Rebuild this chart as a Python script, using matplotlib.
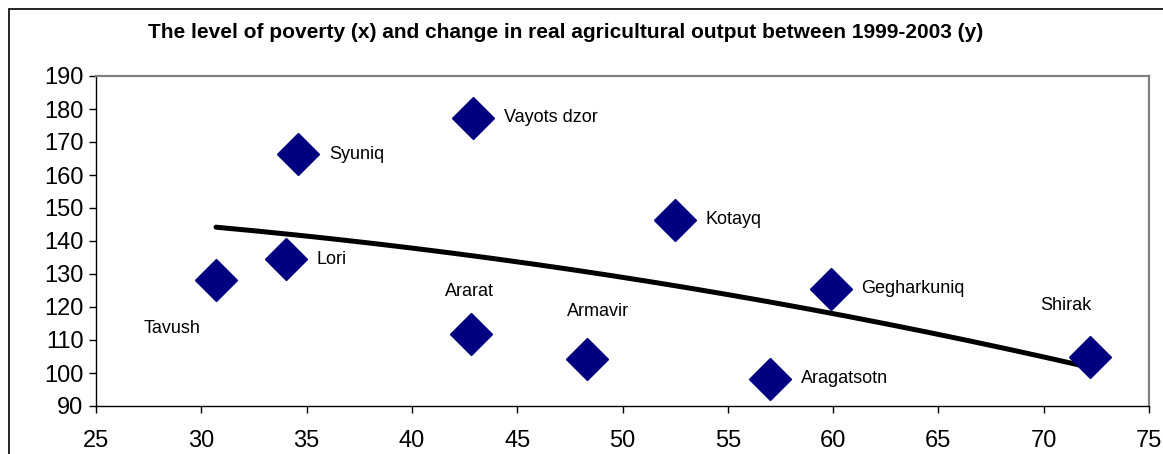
import numpy as np
import matplotlib
matplotlib.use("Agg")
import matplotlib.pyplot as plt
from matplotlib.patches import Rectangle

plt.rcParams['font.family'] = ['Liberation Sans', 'DejaVu Sans']

# ---- data ----
regions = ["Tavush", "Lori", "Syuniq", "Vayots dzor", "Ararat", "Armavir",
           "Kotayq", "Gegharkuniq", "Aragatsotn", "Shirak"]
poverty = [30.7, 34.0, 34.6, 42.9, 42.8, 48.3, 52.5, 59.9, 57.0, 72.2]
agri_change = [128.3, 134.5, 166.3, 177.4, 111.8, 104.2, 146.5, 125.6, 98.2, 104.8]

x_ticks = [25, 30, 35, 40, 45, 50, 55, 60, 65, 70, 75]
y_ticks = [90, 100, 110, 120, 130, 140, 150, 160, 170, 180, 190]
title = "The level of poverty (x) and change in real agricultural output between 1999-2003 (y)"

# label offsets in points (position styling)
label_offsets = [(-52, -35), (22, 0), (22, 0), (22, 0), (-19, 31), (-14, 34),
                 (22, 0), (22, 0), (22, 0), (-36, 37)]
label_ha = ['left'] * 10

W, H, DPI = 1163, 454, 100
fig = plt.figure(figsize=(W / DPI, H / DPI), dpi=DPI)
fig.patch.set_facecolor('white')

# outer chart frame
fig.add_artist(Rectangle((9 / W, -0.1), 1.2, 1.1 - 9 / H, transform=fig.transFigure,
                         fill=False, edgecolor='black', linewidth=1.2))

left, right, top, bottom = 96, 1149, 76, 406
ax = fig.add_axes([left / W, 1 - bottom / H, (right - left) / W, (bottom - top) / H])

ax.set_xlim(25, 75)
ax.set_ylim(90, 190)
ax.set_xticks(x_ticks)
ax.set_yticks(y_ticks)
ax.tick_params(axis='both', labelsize=17, length=5, width=1, direction='out', colors='black')
ax.tick_params(axis='x', pad=12)
ax.tick_params(axis='y', pad=4)
for s in ['left', 'bottom']:
    ax.spines[s].set_color('black')
    ax.spines[s].set_linewidth(1.0)
for s in ['top', 'right']:
    ax.spines[s].set_color('#808080')
    ax.spines[s].set_linewidth(1.6)

# trend line: 2nd order polynomial fit of the data
coef = np.polyfit(poverty, agri_change, 2)
xs = np.linspace(min(poverty), max(poverty), 200)
ax.plot(xs, np.polyval(coef, xs), color='black', linewidth=3.6, solid_capstyle='round', zorder=3)

ax.plot(poverty, agri_change, linestyle='none', marker='D', markersize=21,
        markerfacecolor='#000080', markeredgecolor='#000080', zorder=4)

for name, x, y, off, ha in zip(regions, poverty, agri_change, label_offsets, label_ha):
    ax.annotate(name, (x, y), xytext=off, textcoords='offset points',
                ha=ha, va='center', fontsize=13, color='black', zorder=5)

fig.text(566 / W, 1 - 33 / H, title, ha='center', va='center', fontsize=15, fontweight='bold')

fig.savefig('out.png', dpi=DPI, facecolor='white')
